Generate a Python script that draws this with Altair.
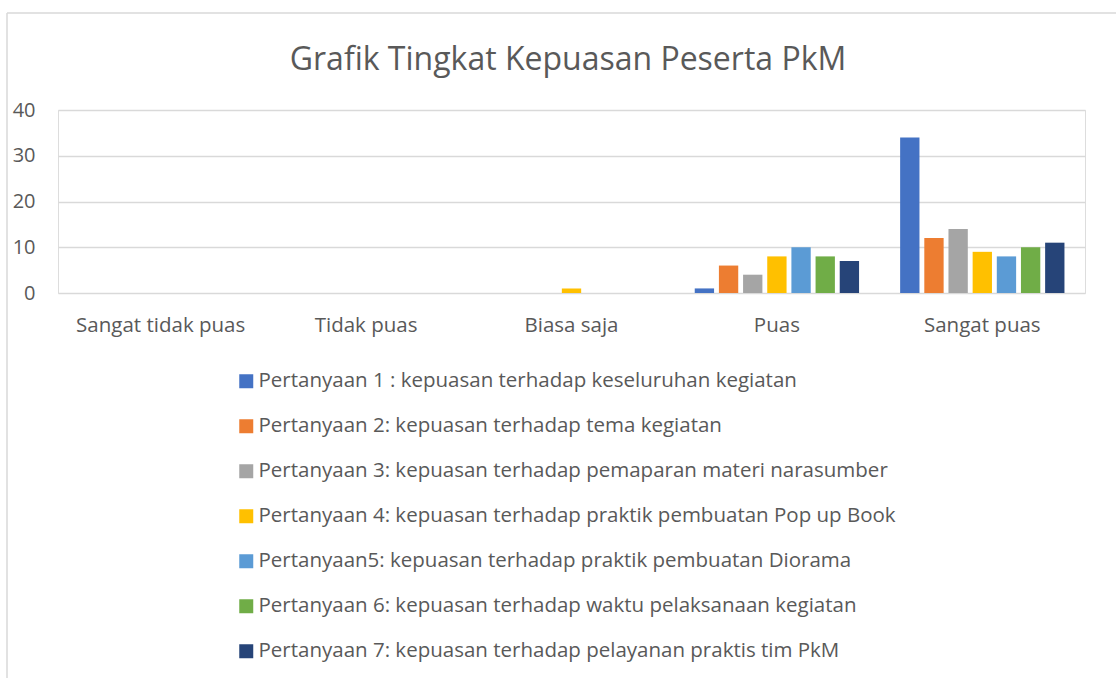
import altair as alt
import pandas as pd

categories = ["Sangat tidak puas", "Tidak puas", "Biasa saja", "Puas", "Sangat puas"]
series = [
    "Pertanyaan 1 : kepuasan terhadap keseluruhan kegiatan",
    "Pertanyaan 2: kepuasan terhadap tema kegiatan",
    "Pertanyaan 3: kepuasan terhadap pemaparan materi narasumber",
    "Pertanyaan 4: kepuasan terhadap praktik pembuatan Pop up Book",
    "Pertanyaan5: kepuasan terhadap praktik pembuatan Diorama",
    "Pertanyaan 6: kepuasan terhadap waktu pelaksanaan kegiatan",
    "Pertanyaan 7: kepuasan terhadap pelayanan praktis tim PkM",
]
colors = ["#4472C4", "#ED7D31", "#A5A5A5", "#FFC000", "#5B9BD5", "#70AD47", "#264478"]
title_text = "Grafik Tingkat Kepuasan Peserta PkM"

p1 = [0, 0, 0, 1, 34]
p2 = [0, 0, 0, 6, 12]
p3 = [0, 0, 0, 4, 14]
p4 = [0, 0, 1, 8, 9]
p5 = [0, 0, 0, 10, 8]
p6 = [0, 0, 0, 8, 10]
p7 = [0, 0, 0, 7, 11]
values = [p1, p2, p3, p4, p5, p6, p7]

rows = []
for s, vals in zip(series, values):
    for c, v in zip(categories, vals):
        rows.append({"Kategori": c, "Pertanyaan": s, "Jumlah": v})
df = pd.DataFrame(rows)

FONT = "Open Sans"
TXT = "#595959"
GRID = "#D9D9D9"

W, H = 1027, 183
LEFT, TOP = 58, 110

bars = alt.Chart(df).mark_bar().encode(
    x=alt.X("Kategori:N", sort=categories, title=None,
            scale=alt.Scale(paddingInner=0.2, paddingOuter=0.1),
            axis=alt.Axis(labelAngle=0, domain=False, ticks=False, labelFontSize=20.5,
                          labelColor=TXT, labelFont=FONT, labelPadding=22)),
    xOffset=alt.XOffset("Pertanyaan:N", sort=series,
                        scale=alt.Scale(paddingInner=0.2, paddingOuter=0)),
    y=alt.Y("Jumlah:Q", title=None,
            scale=alt.Scale(domain=[0, 40]),
            axis=alt.Axis(values=[0, 10, 20, 30, 40], domain=False, ticks=False,
                          grid=True, gridColor=GRID, gridWidth=1.3,
                          labelFontSize=20, labelColor=TXT, labelFont=FONT,
                          labelPadding=23)),
    color=alt.Color("Pertanyaan:N", sort=series,
                    scale=alt.Scale(domain=series, range=colors),
                    legend=alt.Legend(title=None, orient="none", direction="vertical",
                                      legendX=178, legendY=261,
                                      symbolType="square", symbolSize=196,
                                      symbolStrokeWidth=0,
                                      labelFontSize=20.5, labelColor=TXT, labelFont=FONT,
                                      rowPadding=24, labelOffset=2,
                                      labelLimit=900)),
)

frame_df = pd.DataFrame({"k": [0]})
top_line = alt.Chart(frame_df).mark_rule(color=GRID, strokeWidth=1.5).encode(
    x=alt.value(7 - LEFT), x2=alt.value(1116 - LEFT), y=alt.value(13 - TOP))
left_line = alt.Chart(frame_df).mark_rule(color=GRID, strokeWidth=1.5).encode(
    x=alt.value(7 - LEFT), y=alt.value(13 - TOP), y2=alt.value(678 - TOP))
title = alt.Chart(frame_df).mark_text(
    text=title_text, font=FONT, fontSize=32, color=TXT, align="center",
    baseline="alphabetic").encode(
    x=alt.value(568 - LEFT), y=alt.value(70 - TOP))

chart = alt.layer(top_line, left_line, title, bars).properties(
    width=W, height=H,
    autosize=alt.AutoSizeParams(type="none"),
    padding={"left": LEFT, "top": TOP, "right": 1116 - LEFT - W, "bottom": 678 - TOP - H},
).configure_view(stroke=None).configure(background="white")

chart.save("out.html", embed_options={"renderer": "svg", "actions": False})
